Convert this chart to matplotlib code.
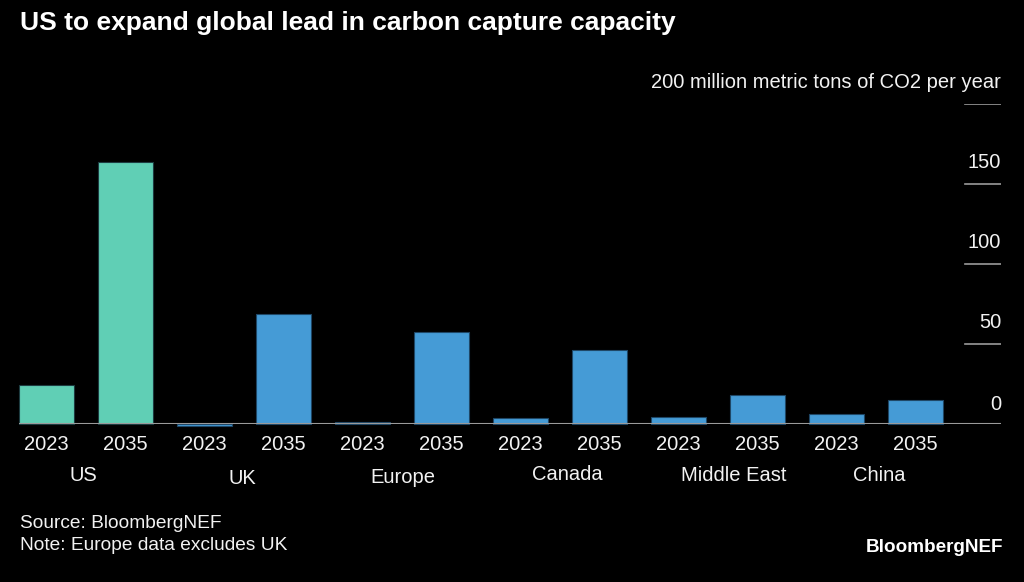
import matplotlib
matplotlib.use("Agg")
import matplotlib.pyplot as plt
import matplotlib.transforms as mtransforms

plt.rcParams['font.family'] = ['Liberation Sans', 'DejaVu Sans']

# ---- data ----
regions = ["US", "UK", "Europe", "Canada", "Middle East", "China"]
years = ["2023", "2035"]
values_2023 = [24.4, -1.0, 1.7, 3.9, 4.4, 6.4]
values_2035 = [163.8, 68.8, 57.5, 46.7, 18.6, 15.4]
y_ticks = [0, 50, 100, 150, 200]
y_tick_labels = ["0", "50", "100", "150", "200 million metric tons of CO2 per year"]

title = "US to expand global lead in carbon capture capacity"
source = "Source: BloombergNEF"
note = "Note: Europe data excludes UK"
brand = "BloombergNEF"

# ---- style ----
BG = "#000000"
TEAL = "#60cfb5"
BLUE = "#459bd6"
GRID = "#9a9a9a"
TXT = "#f2f2f2"

W, H = 1024, 582
fig = plt.figure(figsize=(W / 100, H / 100), dpi=100, facecolor=BG)
left_px, right_px, zero_px, top_px = 19.3, 1001, 424.3, 104.3
ax = fig.add_axes([left_px / W, (H - zero_px) / H, (right_px - left_px) / W,
                   (zero_px - top_px) / H])
ax.set_facecolor(BG)
ax.set_ylim(0, 200)
ax.set_xlim(-0.347, 12.08)
for s in ax.spines.values():
    s.set_visible(False)
ax.set_xticks([])
ax.set_yticks([])

bw = 0.69
for i, reg in enumerate(regions):
    col = TEAL if reg == "US" else BLUE
    for j, v in enumerate([values_2023[i], values_2035[i]]):
        x = 2 * i + j
        ax.bar(x, v, width=bw, color=col, edgecolor="#1d3b40" if reg == "US" else "#1f4766",
               linewidth=0.8, clip_on=False, zorder=2)

# baseline
ax.axhline(0, color=GRID, lw=1.5, zorder=3)
# tick segments and labels
for t, lab in zip(y_ticks, y_tick_labels):
    if t > 0:
        ax.axhline(t, xmin=0.963, xmax=1.0, color=GRID, lw=1.2, zorder=1)
    off = mtransforms.offset_copy(ax.get_yaxis_transform(), fig=fig, x=0, y=7.5 if t == 0 else 9, units='points')
    ax.text(1.0, t, lab, transform=off, ha="right", va="bottom", color=TXT, fontsize=14.5)

# x labels
year_off = mtransforms.offset_copy(ax.get_xaxis_transform(), fig=fig, x=0, y=-20.5 * 0.72, units='points')
label_dx_px = [-3, -2, 1, 7, 16, 3]
label_dy_px = [51, 54, 53, 50, 51, 51]
for i, reg in enumerate(regions):
    for j, yr in enumerate(years):
        ax.text(2 * i + j, 0, yr, transform=year_off, ha="center", va="center",
                color=TXT, fontsize=14.5)
    tr = mtransforms.offset_copy(ax.get_xaxis_transform(), fig=fig,
                                 x=label_dx_px[i] * 0.72, y=-label_dy_px[i] * 0.72, units='points')
    ax.text(2 * i + 0.5, 0, reg, transform=tr, ha="center", va="center",
            color=TXT, fontsize=14.5)

# title and footer
fig.text(20 / W, 1 - 23 / H, title, ha="left", va="center", color="white",
         fontsize=19, fontweight="bold")
fig.text(20 / W, 1 - 523 / H, source, ha="left", va="center", color=TXT, fontsize=13.8)
fig.text(20 / W, 1 - 546 / H, note, ha="left", va="center", color=TXT, fontsize=13.8)
fig.text(1003 / W, 1 - 547 / H, brand, ha="right", va="center", color="white",
         fontsize=13.6, fontweight="bold")

fig.savefig("out.png", dpi=100, facecolor=BG)
